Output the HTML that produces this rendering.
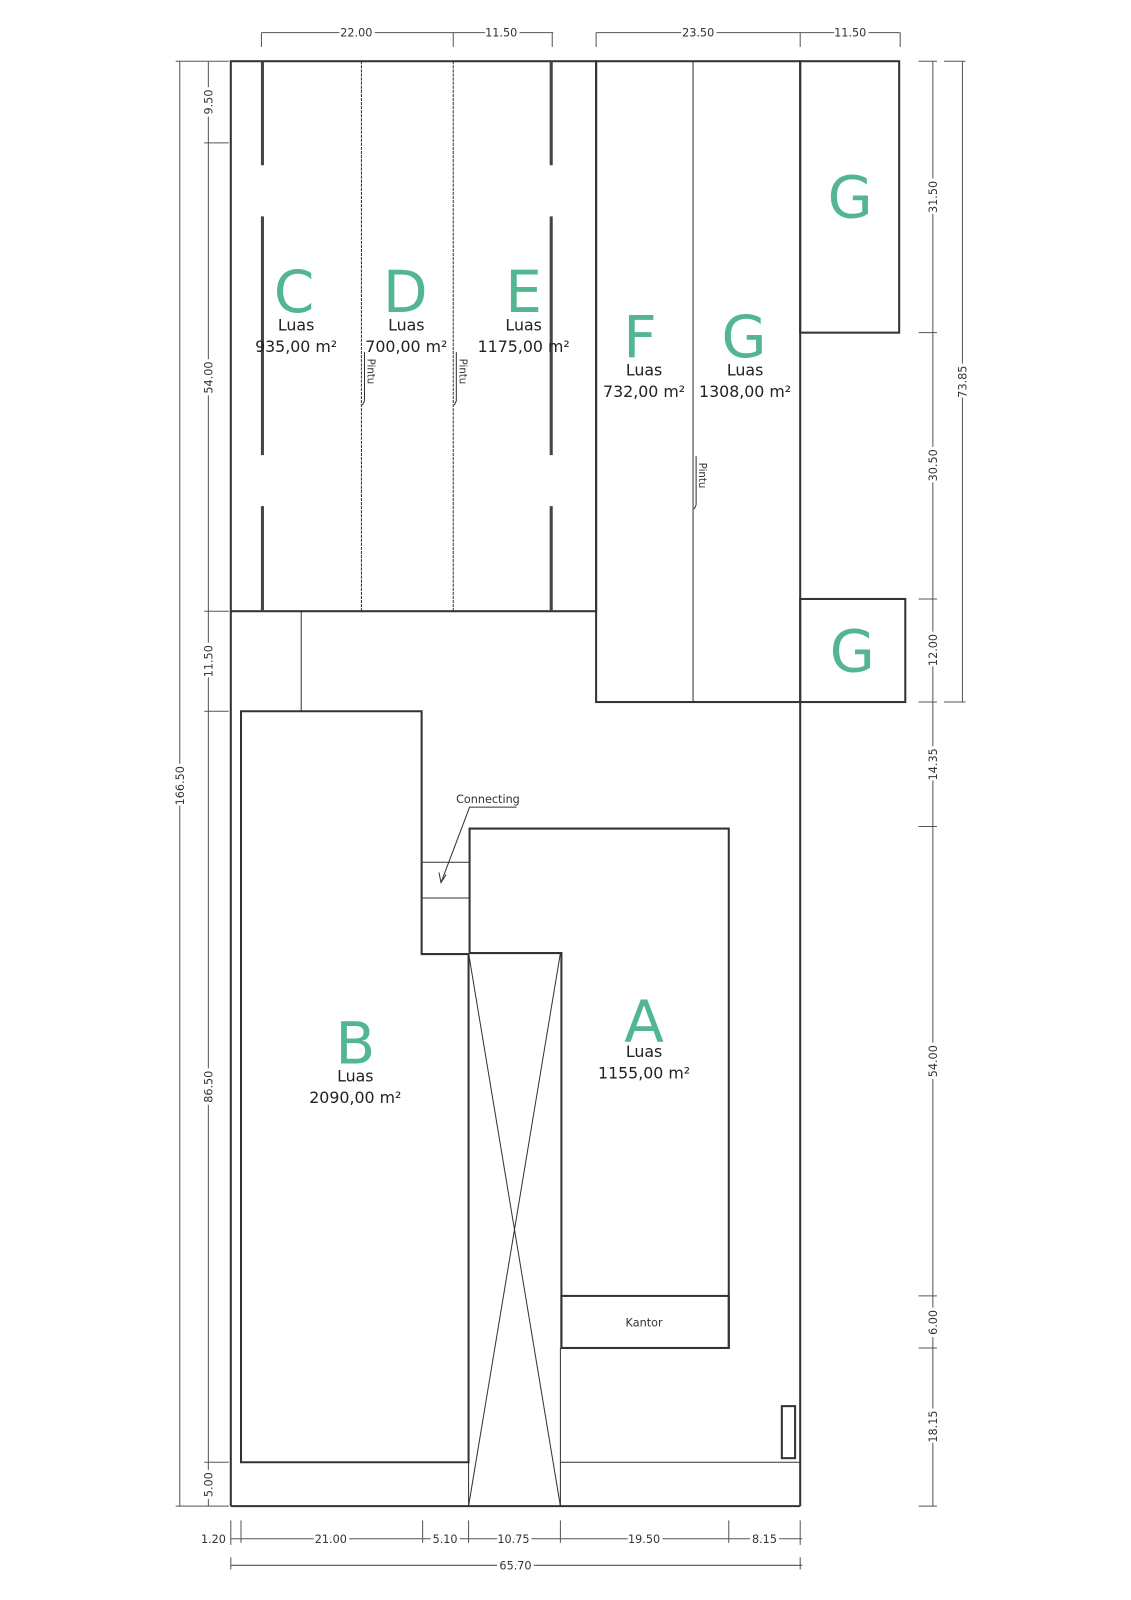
<!DOCTYPE html>
<html><head><meta charset="utf-8"><style>
html,body{margin:0;padding:0;background:#fff;width:1131px;height:1600px;overflow:hidden}
svg{display:block}
.L{fill:#52b690;font-family:"DejaVu Sans","Liberation Sans",sans-serif;font-size:57px;text-anchor:middle}
.t{fill:#222;font-family:"DejaVu Sans","Liberation Sans",sans-serif;font-size:15.5px;text-anchor:middle}
.d{fill:#333;font-family:"DejaVu Sans","Liberation Sans",sans-serif;font-size:11px;text-anchor:middle}
.h text{stroke:#ffffff;stroke-width:6px;paint-order:stroke fill;stroke-linejoin:round}
.s{font-size:10px}
</style></head><body>
<svg width="1131" height="1600" viewBox="0 0 1108 1568" xmlns="http://www.w3.org/2000/svg">
<g fill="none" stroke="#333" stroke-width="2">
<rect x="226" y="60" width="358" height="539"/>
<rect x="584" y="60" width="200" height="628"/>
<rect x="784" y="60" width="97" height="266"/>
<rect x="784" y="587" width="103" height="101"/>
<line x1="784" y1="688" x2="784" y2="1476"/>
<line x1="226" y1="599" x2="226" y2="1476"/>
<line x1="226" y1="1476" x2="784" y2="1476"/>
<polygon points="236,697 413,697 413,935 459,935 459,1433 236,1433"/>
<polyline points="460,935 460,812 714,812 714,1321 550,1321 550,934 459,934"/>
<rect x="550" y="1270" width="164" height="51"/>
<rect x="766" y="1378" width="13" height="51"/>
</g>
<g stroke="#444" stroke-width="3">
<line x1="257" y1="60" x2="257" y2="162"/><line x1="257" y1="212" x2="257" y2="446"/><line x1="257" y1="496" x2="257" y2="599"/>
<line x1="540" y1="60" x2="540" y2="162"/><line x1="540" y1="212" x2="540" y2="446"/><line x1="540" y1="496" x2="540" y2="599"/>
</g>
<g fill="none" stroke="#333" stroke-width="1">
<line x1="354" y1="60" x2="354" y2="599" stroke-dasharray="3,1"/>
<line x1="444" y1="60" x2="444" y2="599" stroke-dasharray="3,1"/>
<line x1="679" y1="60" x2="679" y2="688"/>
<line x1="295" y1="599" x2="295" y2="697"/>
<line x1="413" y1="845" x2="460" y2="845"/><line x1="413" y1="880" x2="460" y2="880"/>
<line x1="459" y1="934" x2="459" y2="1476"/><line x1="549" y1="1321" x2="549" y2="1476"/>
<line x1="459" y1="934" x2="549" y2="1476"/><line x1="549" y1="934" x2="459" y2="1476"/>
<line x1="549" y1="1433" x2="784" y2="1433"/>
<polyline points="506,791 460,791 432,865"/>
<polyline points="430,855 432,865 437,857"/>
<line x1="357" y1="345" x2="357" y2="393"/><line x1="357" y1="393" x2="355" y2="397"/>
<line x1="447" y1="345" x2="447" y2="393"/><line x1="447" y1="393" x2="445" y2="397"/>
<line x1="682" y1="447" x2="682" y2="495"/><line x1="682" y1="495" x2="680" y2="499"/>
</g>
<g fill="none" stroke="#555" stroke-width="1">
<line x1="256" y1="32" x2="542" y2="32"/><line x1="256" y1="32" x2="256" y2="46"/><line x1="444" y1="32" x2="444" y2="46"/><line x1="541" y1="32" x2="541" y2="46"/>
<line x1="584" y1="32" x2="882" y2="32"/><line x1="584" y1="32" x2="584" y2="46"/><line x1="784" y1="32" x2="784" y2="46"/><line x1="882" y1="32" x2="882" y2="46"/>
<line x1="176" y1="60" x2="176" y2="1476"/><line x1="172" y1="60" x2="224" y2="60"/><line x1="172" y1="1476" x2="224" y2="1476"/>
<line x1="204" y1="60" x2="204" y2="1476"/>
<line x1="200" y1="140" x2="224" y2="140"/><line x1="200" y1="599" x2="224" y2="599"/><line x1="200" y1="697" x2="224" y2="697"/><line x1="200" y1="1433" x2="224" y2="1433"/>
<line x1="914" y1="60" x2="914" y2="1476"/>
<line x1="900" y1="60" x2="918" y2="60"/><line x1="900" y1="326" x2="918" y2="326"/><line x1="900" y1="587" x2="918" y2="587"/><line x1="900" y1="688" x2="918" y2="688"/><line x1="900" y1="810" x2="918" y2="810"/><line x1="900" y1="1270" x2="918" y2="1270"/><line x1="900" y1="1321" x2="918" y2="1321"/><line x1="900" y1="1476" x2="918" y2="1476"/>
<line x1="943" y1="60" x2="943" y2="688"/><line x1="925" y1="60" x2="946" y2="60"/><line x1="925" y1="688" x2="946" y2="688"/>
<line x1="226" y1="1508" x2="786" y2="1508"/>
<line x1="226" y1="1490" x2="226" y2="1514"/><line x1="236" y1="1490" x2="236" y2="1512"/><line x1="414" y1="1490" x2="414" y2="1512"/><line x1="459" y1="1490" x2="459" y2="1512"/><line x1="549" y1="1490" x2="549" y2="1512"/><line x1="714" y1="1490" x2="714" y2="1512"/><line x1="784" y1="1490" x2="784" y2="1514"/>
<line x1="226" y1="1534" x2="786" y2="1534"/><line x1="226" y1="1526" x2="226" y2="1538"/><line x1="784" y1="1526" x2="784" y2="1538"/>
</g>
<g class="d h">
<text x="349" y="36">22.00</text>
<text x="491" y="36">11.50</text>
<text x="684" y="36">23.50</text>
<text x="833" y="36">11.50</text>
<text transform="translate(180,770) rotate(-90)">166.50</text>
<text transform="translate(208,100) rotate(-90)">9.50</text>
<text transform="translate(208,370) rotate(-90)">54.00</text>
<text transform="translate(208,648) rotate(-90)">11.50</text>
<text transform="translate(208,1065) rotate(-90)">86.50</text>
<text transform="translate(208,1455) rotate(-90)">5.00</text>
<text transform="translate(918,193) rotate(-90)">31.50</text>
<text transform="translate(918,456) rotate(-90)">30.50</text>
<text transform="translate(918,637) rotate(-90)">12.00</text>
<text transform="translate(918,749) rotate(-90)">14.35</text>
<text transform="translate(918,1040) rotate(-90)">54.00</text>
<text transform="translate(918,1296) rotate(-90)">6.00</text>
<text transform="translate(918,1398) rotate(-90)">18.15</text>
<text transform="translate(947,374) rotate(-90)">73.85</text>
<text x="209" y="1512">1.20</text>
<text x="324" y="1512">21.00</text>
<text x="436" y="1512">5.10</text>
<text x="503" y="1512">10.75</text>
<text x="631" y="1512">19.50</text>
<text x="749" y="1512">8.15</text>
<text x="505" y="1538">65.70</text>
</g>
<text class="d" x="478" y="787">Connecting</text>
<text class="d" x="631" y="1300">Kantor</text>
<g class="d s">
<text transform="translate(360,364) rotate(90)">Pintu</text>
<text transform="translate(450,364) rotate(90)">Pintu</text>
<text transform="translate(685,466) rotate(90)">Pintu</text>
</g>
<text class="L" x="288" y="306">C</text>
<text class="t" x="290" y="324">Luas</text><text class="t" x="290" y="345">935,00 m²</text>
<text class="L" x="397" y="306">D</text>
<text class="t" x="398" y="324">Luas</text><text class="t" x="398" y="345">700,00 m²</text>
<text class="L" x="513" y="306">E</text>
<text class="t" x="513" y="324">Luas</text><text class="t" x="513" y="345">1175,00 m²</text>
<text class="L" x="627" y="350">F</text>
<text class="t" x="631" y="368">Luas</text><text class="t" x="631" y="389">732,00 m²</text>
<text class="L" x="729" y="350">G</text>
<text class="t" x="730" y="368">Luas</text><text class="t" x="730" y="389">1308,00 m²</text>
<text class="L" x="833" y="213">G</text>
<text class="L" x="835" y="658">G</text>
<text class="L" x="348" y="1042">B</text>
<text class="t" x="348" y="1060">Luas</text><text class="t" x="348" y="1081">2090,00 m²</text>
<text class="L" x="631" y="1021">A</text>
<text class="t" x="631" y="1036">Luas</text><text class="t" x="631" y="1057">1155,00 m²</text>
</svg>
</body></html>
